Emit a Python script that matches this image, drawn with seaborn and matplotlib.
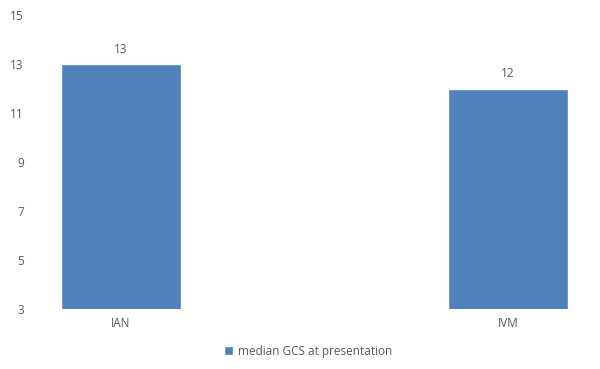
import matplotlib
matplotlib.use("Agg")
import matplotlib.pyplot as plt
import seaborn as sns
import pandas as pd

# Datos
grupos = ["IAN", "IVM"]
valores = [13, 12]
serie = "median GCS at presentation"
y_ticks = [3, 5, 7, 9, 11, 13, 15]

color_barra = "#4F81BD"
color_texto = "#595959"

sns.set_theme(style="white")
plt.rcParams["font.family"] = ["Open Sans", "DejaVu Sans"]

datos = pd.DataFrame({"grupo": grupos, "valor": valores, "serie": serie})

fig = plt.figure(figsize=(6, 3.69), dpi=100)
ax = fig.add_axes([35 / 600, 1 - 309 / 369, 560 / 600, 294 / 369])

sns.barplot(data=datos, x="grupo", y="valor", hue="serie", palette=[color_barra],
            width=0.31, ax=ax, saturation=1)

# Etiquetas de valor
for i, v in enumerate(valores):
    ax.text(i, v + 0.33, str(v), ha="center", va="bottom", fontsize=8.5, color=color_texto)

ax.set_xlim(-0.222, 1.225)
ax.set_ylim(3, 15)
ax.set_yticks(y_ticks)
ax.set_xlabel("")
ax.set_ylabel("")
ax.tick_params(axis="both", length=0, labelsize=8.5, colors=color_texto)
ax.tick_params(axis="y", pad=8)
ax.tick_params(axis="x", pad=6)
sns.despine(ax=ax, left=True, bottom=True)

leg = ax.legend(loc="center", bbox_to_anchor=(308 / 600, 1 - 351 / 369),
                bbox_transform=fig.transFigure, frameon=False, fontsize=8.5,
                handlelength=0.8, handleheight=0.8, handletextpad=0.4)
for t in leg.get_texts():
    t.set_color(color_texto)

fig.savefig("out.png", dpi=100)
